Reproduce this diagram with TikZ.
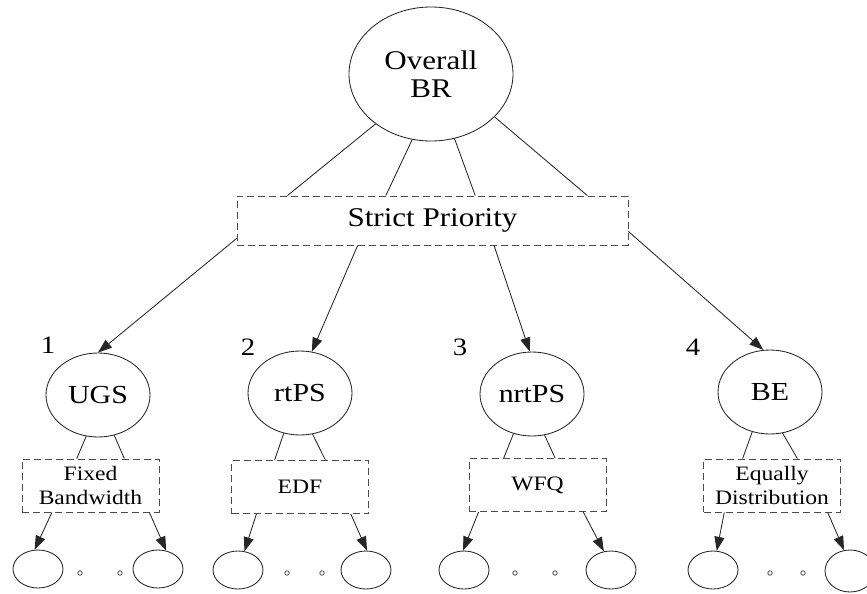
\documentclass[tikz,border=0pt]{standalone}
\usepackage{fontspec}
\setmainfont{Liberation Serif}[FakeStretch=1.15]
\usetikzlibrary{shapes.geometric,arrows.meta,calc}
\begin{document}
\begin{tikzpicture}[x=1pt,y=-1pt,
  line/.style={draw=black!85, line width=0.85pt},
  arr/.style={line, -{Triangle[length=14pt,width=10pt]}},
  oval/.style={ellipse, draw=black!85, line width=0.85pt, inner sep=0pt},
  bigoval/.style={oval, minimum width=164pt, minimum height=134pt, font=\fontsize{27}{28}\selectfont, align=center},
  midoval/.style={oval, minimum width=104pt, minimum height=84pt, font=\fontsize{26}{28}\selectfont},
  leaf/.style={oval, minimum width=50pt, minimum height=38pt},
  dotc/.style={circle, draw=black!70, line width=0.8pt, minimum size=4.5pt, inner sep=0pt},
  dbox/.style={draw=black!70, dash pattern=on 7pt off 4pt, line width=0.9pt, inner sep=0pt, align=center},
  smallbox/.style={dbox, minimum width=137pt, minimum height=53pt, font=\fontsize{20.5}{24}\selectfont},
  num/.style={font=\fontsize{25}{28}\selectfont, inner sep=0pt}
]
\useasboundingbox (0,0) rectangle (867,594);

% top
\node[bigoval] (br) at (431,74) {Overall\\BR};
\node[dbox, minimum width=391pt, minimum height=49pt, font=\fontsize{27}{28}\selectfont] (sp) at (432.5,220.5) {Strict Priority};

\draw[line] (br.222) -- ($(sp.north west)!0.13!(sp.north east)$);
\draw[line] (br.254) -- ($(sp.north west)!0.381!(sp.north east)$);
\draw[line] (br.290) -- ($(sp.north west)!0.609!(sp.north east)$);
\draw[line] (br.326) -- ($(sp.north west)!0.895!(sp.north east)$);

% classes
\node[midoval] (ugs) at (98,395) {UGS};
\node[midoval] (rt) at (300,393) {rtPS};
\node[midoval] (nrt) at (532,394) {nrtPS};
\node[midoval] (be) at (770,392) {BE};

\node[num] (n1) at (48,345) {1};
\node[num] (n2) at (248,347) {2};
\node[num] (n3) at (460,347) {3};
\node[num] (n4) at (693,347) {4};

\draw[arr] ($(sp.south west)!0.14!(sp.north west)$) -- (ugs.90);
\draw[arr] ($(sp.south west)!0.309!(sp.south east)$) -- (rt.74);
\draw[arr] ($(sp.south west)!0.657!(sp.south east)$) -- (nrt.93);
\draw[arr] ($(sp.south east)!0.28!(sp.north east)$) -- (be.99);

% scheduler boxes
\node[smallbox] (fb) at (90.5,485.5) {Fixed\\Bandwidth};
\node[smallbox] (edf) at (300,487) {EDF};
\node[smallbox] (wfq) at (537.5,485) {WFQ};
\node[smallbox] (ed) at (772,485.5) {Equally\\Distribution};

\draw[line] (ugs.254) -- ($(fb.north west)!0.40!(fb.north east)$);
\draw[line] (ugs.292) -- ($(fb.north west)!0.745!(fb.north east)$);
\draw[line] (rt.248) -- ($(edf.north west)!0.316!(edf.north east)$);
\draw[line] (rt.287) -- ($(edf.north west)!0.684!(edf.north east)$);
\draw[line] (nrt.245) -- ($(wfq.north west)!0.255!(wfq.north east)$);
\draw[line] (nrt.287) -- ($(wfq.north west)!0.628!(wfq.north east)$);
\draw[line] (be.246) -- ($(ed.north west)!0.287!(ed.north east)$);
\draw[line] (be.287) -- ($(ed.north west)!0.684!(ed.north east)$);

% leaves
\node[leaf] (fbl) at (38,569) {};
\node[leaf] (fbr) at (158,569) {};
\node[leaf] (edfl) at (238,570) {};
\node[leaf] (edfr) at (366,570) {};
\node[leaf] (wfql) at (464,570) {};
\node[leaf] (wfqr) at (611,570) {};
\node[leaf] (edl) at (713,570) {};
\node[leaf, minimum height=42pt] (edr) at (850,571) {};

\draw[arr] ($(fb.south west)!0.22!(fb.south east)$) -- (fbl.100);
\draw[arr] ($(fb.south west)!0.927!(fb.south east)$) -- (fbr.66);
\draw[arr] ($(edf.south west)!0.184!(edf.south east)$) -- (edfl.71);
\draw[arr] ($(edf.south west)!0.868!(edf.south east)$) -- (edfr.87);
\draw[arr] ($(wfq.south west)!0.073!(wfq.south east)$) -- (wfql.93);
\draw[arr] ($(wfq.south west)!0.832!(wfq.south east)$) -- (wfqr.111);
\draw[arr] ($(ed.south west)!0.154!(ed.south east)$) -- (edl.79);
\draw[arr] ($(ed.south west)!0.904!(ed.south east)$) -- (edr.106);

% ellipsis dots
\node[dotc] (d1) at (80,573) {};
\node[dotc] (d2) at (120,573) {};
\node[dotc] (d3) at (287,573) {};
\node[dotc] (d4) at (322,573) {};
\node[dotc] (d5) at (515,573) {};
\node[dotc] (d6) at (555,573) {};
\node[dotc] (d7) at (770,573) {};
\node[dotc] (d8) at (803,573) {};
\end{tikzpicture}
\end{document}
